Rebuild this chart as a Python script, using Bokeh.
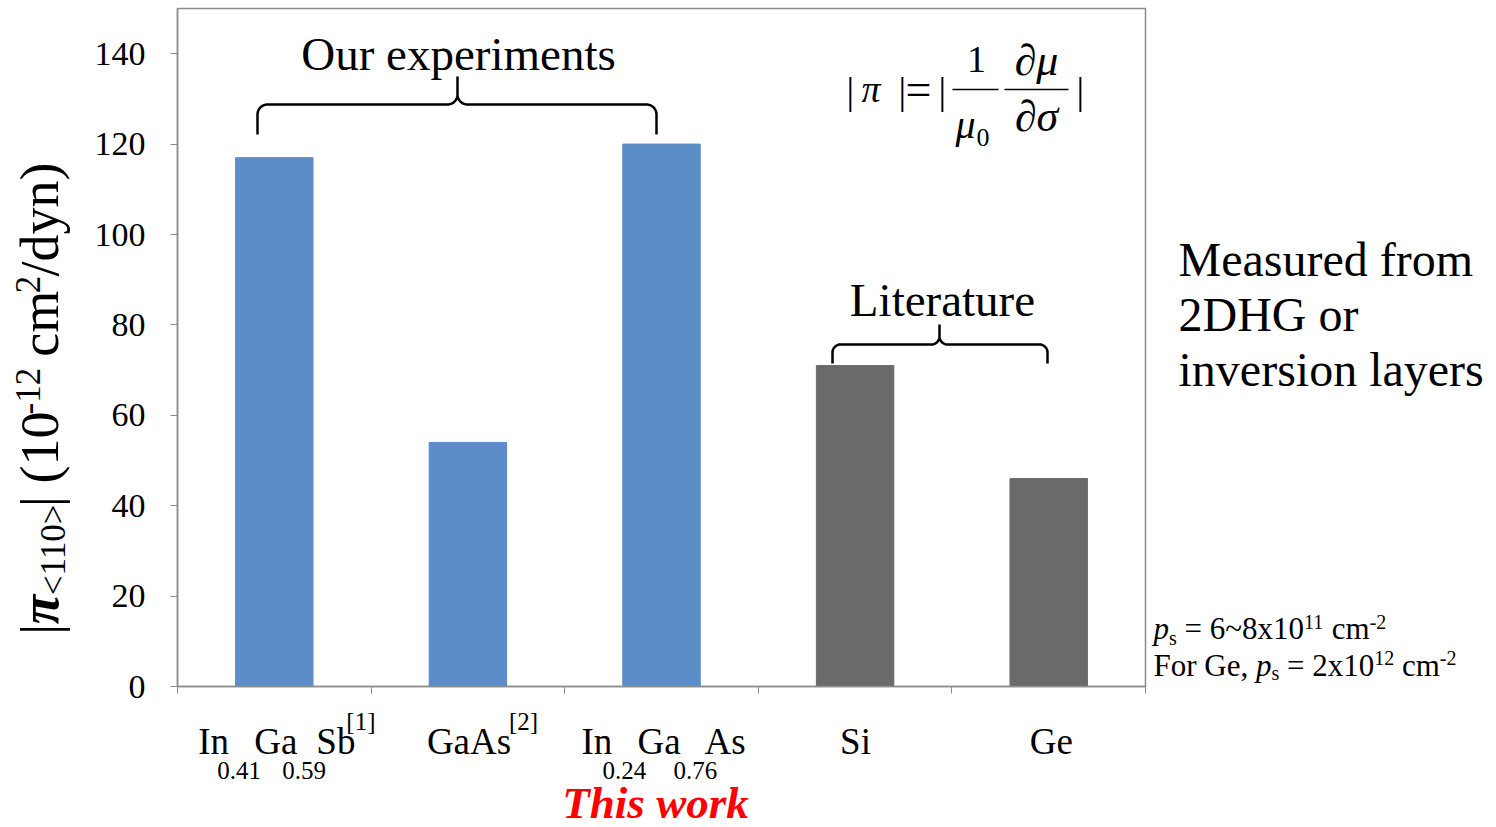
import numpy as np
from bokeh.plotting import figure
from bokeh.models import Range1d, FixedTicker, Label, ColumnDataSource
from bokeh.layouts import row, column
from bokeh.embed import file_html
from bokeh.resources import INLINE

# ---------------- data ----------------
categories = ["In0.41Ga0.59Sb", "GaAs", "In0.24Ga0.76As", "Si", "Ge"]
values = [117, 54, 120, 71, 46]
groups = ["ours", "ours", "ours", "lit", "lit"]
y_ticks = [0, 20, 40, 60, 80, 100, 120, 140]
group_colors = {"ours": "#5B8DC9", "lit": "#6A6A6A"}

# category label pieces: (text, role, x offset in px from category centre)
cat_label_pieces = [
    [("In", "main", -76), ("0.41", "sub", -57), ("Ga", "main", -20),
     ("0.59", "sub", 8), ("Sb", "main", 42), ("[1]", "sup", 72)],
    [("GaAs", "main", -41), ("[2]", "sup", 41)],
    [("In", "main", -80), ("0.24", "sub", -59), ("Ga", "main", -24),
     ("0.76", "sub", 12), ("As", "main", 43)],
    [("Si", "main", -15)],
    [("Ge", "main", -19)],
]
ylabel_pieces = [("|", "main"), ("π", "bi"), ("<110>", "sub"), ("|", "main"),
                 (" (10", "main"), ("-12", "sup"), (" cm", "main"), ("2", "sup"),
                 ("/dyn)", "main")]
ps_line1 = [("p", "it"), ("s", "sub"), (" = 6~8x10", "main"), ("11", "sup"), (" cm", "main"), ("-2", "sup")]
ps_line2 = [("For Ge, ", "main"), ("p", "it"), ("s", "sub"), (" = 2x10", "main"), ("12", "sup"),
            (" cm", "main"), ("-2", "sup")]
note_lines = ["Measured from", "2DHG or", "inversion layers"]

# ---------------- layout ----------------
W, H = 1496, 827
L, R, T, B = 177, 1145, 8, 686      # plot frame in page pixels
LEFT_W = 80                          # strip holding the y-axis title
RIGHT_X = 1150                       # strip holding the notes
TOP_H = 706                          # height of the upper row
YMAX = 150
FONT = "Liberation Serif"
N = len(categories)
BASE_FIX = 0.33  # baseline correction (fraction of font size)
GRAY = "#8C8C8C"


def dx(px):
    return (px - L) / (R - L) * N


def dy(py):
    return (B - py) / (B - T) * YMAX


TW = {' ': 250, '(': 333, ')': 333, '-': 333, '.': 250, '/': 278, '<': 564, '=': 564, '>': 564,
      '[': 333, ']': 333, '~': 541, '|': 200, ',': 250, 'x': 500, 'c': 444, 'm': 778, 'd': 500,
      'y': 500, 'n': 500, 'F': 556, 'o': 500, 'r': 333, 'G': 722, 'e': 444, 'p': 500, 's': 389,
      'π': 560}


def tw(s, size):
    return sum(TW.get(c, 500) for c in s) / 1000.0 * size


# ---------- main chart ----------
p = figure(width=RIGHT_X - LEFT_W, height=TOP_H, x_range=Range1d(0, N), y_range=Range1d(0, YMAX),
           output_backend="svg", toolbar_location=None,
           min_border_left=L - LEFT_W, min_border_right=RIGHT_X - R,
           min_border_top=T, min_border_bottom=TOP_H - B)
p.background_fill_color = "white"
p.border_fill_color = "white"
p.outline_line_color = GRAY
p.outline_line_width = 1.5
p.xgrid.visible = False
p.ygrid.visible = False

p.yaxis.ticker = FixedTicker(ticks=y_ticks)
p.yaxis.major_label_text_font = FONT
p.yaxis.major_label_text_font_size = "34px"
p.yaxis.major_label_text_color = "black"
p.yaxis.major_label_standoff = 25
p.yaxis.axis_line_color = GRAY
p.yaxis.axis_line_width = 1.5
p.yaxis.major_tick_line_color = GRAY
p.yaxis.major_tick_in = 0
p.yaxis.major_tick_out = 7
p.yaxis.minor_tick_line_color = None

p.xaxis.ticker = FixedTicker(ticks=list(range(N + 1)))
p.xaxis.major_label_overrides = {i: "" for i in range(N + 1)}
p.xaxis.major_label_text_font_size = "1px"
p.xaxis.major_label_standoff = 0
p.xaxis.axis_line_color = GRAY
p.xaxis.axis_line_width = 1.5
p.xaxis.major_tick_line_color = GRAY
p.xaxis.major_tick_in = 0
p.xaxis.major_tick_out = 7
p.xaxis.minor_tick_line_color = None

src = ColumnDataSource(dict(x=[i + 0.5 for i in range(N)], top=values,
                            color=[group_colors[g] for g in groups], name=categories))
p.vbar(x="x", top="top", width=0.4, color="color", source=src)


def strip(x0, x1, y0, y1):
    """A blank figure whose data coordinates equal page pixels."""
    f = figure(width=x1 - x0, height=y1 - y0, x_range=Range1d(x0, x1), y_range=Range1d(y1, y0),
               x_axis_type=None, y_axis_type=None, output_backend="svg", toolbar_location=None,
               min_border=0, min_border_left=0, min_border_right=0, min_border_top=0,
               min_border_bottom=0)
    f.outline_line_color = None
    f.background_fill_color = "white"
    f.border_fill_color = "white"
    return f


left = strip(0, LEFT_W, 0, TOP_H)
right = strip(RIGHT_X, W, 0, TOP_H)
bottom = strip(0, W, TOP_H, H)


def lab(fig, text, px, py, size, style="normal", color="black", align="left", angle=0.0):
    """Text whose alphabetic baseline anchor sits at page pixel (px, py)."""
    if angle == 0.0:
        py = py - BASE_FIX * size
    else:
        px = px - BASE_FIX * size
    if fig is p:
        x, y = dx(px), dy(py)
    else:
        x, y = px, py
    fig.add_layout(Label(x=x, y=y, text=text, text_font=FONT, text_font_size=f"{size}px",
                         text_font_style=style, text_color=color, text_align=align,
                         text_baseline="alphabetic", angle=angle))


def flow(fig, pieces, start, base, size, small, sub_shift, sup_shift, rotated=False):
    """Lay rich-text pieces one after another along the reading direction."""
    cur = start
    for text, role in pieces:
        s = small if role in ("sub", "sup") else size
        style = {"it": "italic", "bi": "bold italic"}.get(role, "normal")
        shift = sub_shift if role == "sub" else (sup_shift if role == "sup" else 0)
        lead = len(text) - len(text.lstrip(" "))
        cur_text = cur + tw(" " * lead, s) * (-1 if rotated else 1)
        body = text.strip(" ")
        if rotated:
            lab(fig, body, base + shift, cur_text, s, style=style, angle=np.pi / 2)
            cur -= tw(text, s)
        else:
            lab(fig, body, cur_text, base + shift, s, style=style)
            cur += tw(text, s)


def cat_px(i):
    return L + (i + 0.5) * (R - L) / N


# category labels
MAIN_BL, SUB_BL, SUP_BL = 753, 778, 729
for i, pieces in enumerate(cat_label_pieces):
    for text, role, off in pieces:
        if role == "main":
            lab(bottom, text, cat_px(i) + off, MAIN_BL, 37)
        elif role == "sub":
            lab(bottom, text, cat_px(i) + off, SUB_BL, 25)
        else:
            lab(bottom, text, cat_px(i) + off, SUP_BL, 25)

lab(bottom, "This work", 655, 817, 45, style="bold italic", color="#FF0000", align="center")

# y-axis title (rotated pieces), reading bottom to top
flow(left, ylabel_pieces, start=652, base=57, size=54, small=35, sub_shift=8, sup_shift=-18,
     rotated=True)

# group annotations
lab(p, "Our experiments", 458, 69, 47, align="center")
lab(p, "Literature", 942, 315, 47, align="center")


def brace(x0, x1, xm, yh, yend, ytip, r, n=12):
    pts = [(x0, yend), (x0, yh + r)]
    for t in np.linspace(np.pi, 1.5 * np.pi, n):
        pts.append((x0 + r + r * np.cos(t), yh + r + r * np.sin(t)))
    for t in np.linspace(0.5 * np.pi, 0.0, n):
        pts.append((xm - r + r * np.cos(t), yh - r + r * np.sin(t)))
    pts.append((xm, ytip))
    for t in np.linspace(np.pi, 0.5 * np.pi, n):
        pts.append((xm + r + r * np.cos(t), yh - r + r * np.sin(t)))
    for t in np.linspace(1.5 * np.pi, 2 * np.pi, n):
        pts.append((x1 - r + r * np.cos(t), yh + r + r * np.sin(t)))
    pts.append((x1, yend))
    xs = [dx(a) for a, b in pts]
    ys = [dy(b) for a, b in pts]
    p.line(xs, ys, line_color="black", line_width=2.5)


brace(257, 656, 457, 104, 134, 76, 10)
brace(832, 1047, 939, 344, 363, 324, 8)

# formula |pi| = | 1/mu0 dmu/dsigma |
FS = 38
lab(p, "|", 846, 103, FS)
lab(p, "π", 861, 101, FS, style="italic")
lab(p, "|", 898, 103, FS)
lab(p, "=", 905, 104, 46)
lab(p, "|", 938, 103, FS)
lab(p, "1", 976, 72, FS, align="center")
p.segment(x0=[dx(952), dx(1004)], y0=[dy(89), dy(89)], x1=[dx(998), dx(1068)], y1=[dy(89), dy(89)],
          line_color="black", line_width=1.5)
lab(p, "μ", 955, 137, 40, style="italic")
lab(p, "0", 976, 146, 26)
lab(p, "∂μ", 1036, 75, 44, style="italic", align="center")
lab(p, "∂σ", 1036, 131, 44, style="italic", align="center")
lab(p, "|", 1076, 103, FS)

# right-hand notes
for k, line in enumerate(note_lines):
    lab(right, line, 1178, 277 + k * 57.5, 48)

flow(right, ps_line1, start=1153, base=656, size=31, small=20, sub_shift=6, sup_shift=-11)
flow(right, ps_line2, start=1153, base=694, size=31, small=20, sub_shift=5, sup_shift=-11)

layout = column(row(left, p, right), bottom)
open("out.html", "w").write(file_html(layout, INLINE))
